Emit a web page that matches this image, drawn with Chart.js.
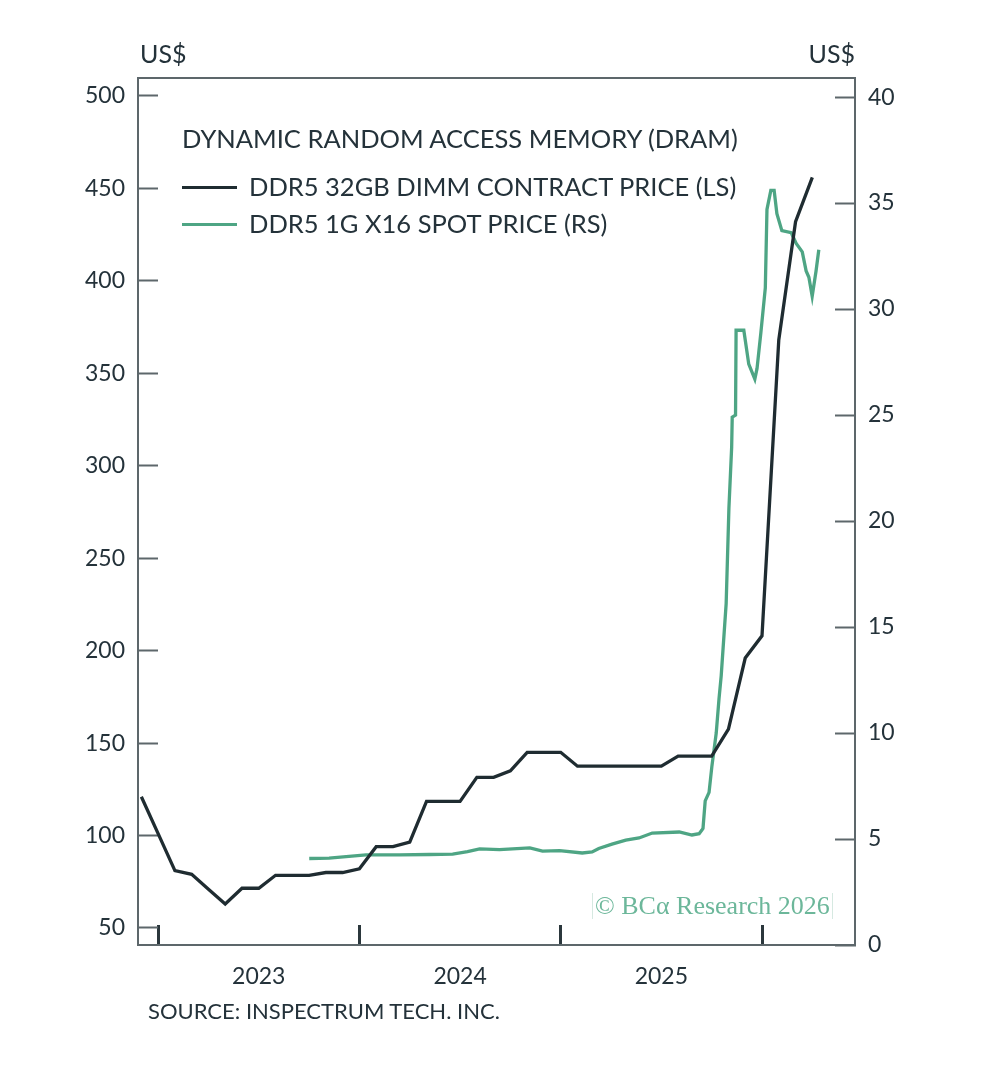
<!DOCTYPE html>
<html>
<head>
<meta charset="utf-8">
<script src="https://cdn.jsdelivr.net/npm/chart.js@4.4.1/dist/chart.umd.min.js"></script>
<style>
  body { margin: 0; background: #fff; }
  #wrap { position: relative; width: 986px; height: 1073px; font-family: Lato, "Open Sans", sans-serif; color: #24323a; }
  #wrap canvas { position: absolute; left: 0; top: 0; }
  .txt { position: absolute; line-height: 1; white-space: nowrap; }
  .unit { font-size: 25px; top: 41px; }
  .title { left: 182px; top: 126px; font-size: 25.5px; }
  .leg { left: 182px; font-size: 25.5px; }
  .leg i { display: inline-block; width: 55px; height: 3px; vertical-align: middle; margin-right: 12px; position: relative; top: -2px; }
  .source { left: 148px; top: 1000px; font-size: 22px; }
  .mark { left: 592px; top: 893px; height: 26px; padding: 0 2px; font-family: "Liberation Serif", "DejaVu Serif", serif; font-size: 26px; line-height: 26px; color: #6cb79a; border-left: 1px solid #d6e9e1; border-right: 1px solid #d6e9e1; }
</style>
</head>
<body>
<div id="wrap">
  <canvas id="dramChart"></canvas>
  <div class="txt unit" style="left:140px">US$</div>
  <div class="txt unit" style="right:131px">US$</div>
  <div class="txt title">DYNAMIC RANDOM ACCESS MEMORY (DRAM)</div>
  <div class="txt leg" style="top:174px"><i style="background:#1f2c31"></i>DDR5 32GB DIMM CONTRACT PRICE (LS)</div>
  <div class="txt leg" style="top:211px"><i style="background:#4ea584"></i>DDR5 1G X16 SPOT PRICE (RS)</div>
  <div class="txt source">SOURCE: INSPECTRUM TECH. INC.</div>
  <div class="txt mark">© BCα Research 2026</div>
</div>
<script>
// DDR5 32GB DIMM contract price, monthly (US$, left scale)
var contractMonths = [
  '2022-12', '2023-01', '2023-02', '2023-03', '2023-04', '2023-05', '2023-06', '2023-07',
  '2023-08', '2023-09', '2023-10', '2023-11', '2023-12', '2024-01', '2024-02', '2024-03',
  '2024-04', '2024-05', '2024-06', '2024-07', '2024-08', '2024-09', '2024-10', '2024-11',
  '2024-12', '2025-01', '2025-02', '2025-03', '2025-04', '2025-05', '2025-06', '2025-07',
  '2025-08', '2025-09', '2025-10', '2025-11', '2025-12', '2026-01', '2026-02', '2026-03',
  '2026-04'
];
var contractPrice = [
  121, 101, 81, 79, 71, 63, 71.5, 71.5,
  78.5, 78.5, 78.5, 80, 80, 82, 94, 94,
  96.5, 118.5, 118.5, 118.5, 131.5, 131.5, 135, 145,
  145, 145, 137.5, 137.5, 137.5, 137.5, 137.5, 137.5,
  143, 143, 143, 157.5, 196, 208, 368, 432,
  456
];

// DDR5 1G x16 spot price (US$, right scale)
var spotDates = [
  '2023-10-02', '2023-11-07', '2024-01-13', '2024-03-13', '2024-05-07', '2024-06-18',
  '2024-07-15', '2024-08-06', '2024-09-11', '2024-11-05', '2024-11-28', '2024-12-29',
  '2025-02-09', '2025-02-27', '2025-03-11', '2025-04-04', '2025-04-29', '2025-05-23',
  '2025-06-16', '2025-08-04', '2025-08-27', '2025-09-09', '2025-09-14', '2025-09-16',
  '2025-09-20', '2025-09-27', '2025-10-02', '2025-10-10', '2025-10-15', '2025-10-19',
  '2025-10-28', '2025-11-02', '2025-11-07', '2025-11-08', '2025-11-14', '2025-11-15',
  '2025-11-29', '2025-12-08', '2025-12-19', '2025-12-23', '2025-12-30', '2026-01-07',
  '2026-01-10', '2026-01-17', '2026-01-23', '2026-01-28', '2026-02-06', '2026-02-23',
  '2026-03-04', '2026-03-15', '2026-03-22', '2026-03-27', '2026-04-02', '2026-04-09',
  '2026-04-14'
];
var spotPrice = [
  4.08, 4.1, 4.25, 4.25, 4.27, 4.29,
  4.4, 4.53, 4.5, 4.58, 4.43, 4.45,
  4.34, 4.39, 4.55, 4.76, 4.95, 5.05,
  5.28, 5.33, 5.19, 5.25, 5.42, 5.5,
  6.8, 7.2, 8.4, 10.0, 11.6, 12.7,
  16.1, 20.6, 23.5, 24.9, 25.0, 29.0,
  29.0, 27.4, 26.7, 27.2, 28.9, 31.0,
  34.7, 35.6, 35.6, 34.5, 33.7, 33.6,
  33.1, 32.7, 31.8, 31.5, 30.6, 31.8,
  32.8
];

var yearTicks = [2023, 2024, 2025, 2026];
var yearLabels = ['2023', '2024', '2025'];
var leftTicks = [50, 100, 150, 200, 250, 300, 350, 400, 450, 500];
var rightTicks = [0, 5, 10, 15, 20, 25, 30, 35, 40];

var AXIS_COLOR = '#5d676b';
var TEXT_COLOR = '#24323a';

// 'YYYY-MM' or 'YYYY-MM-DD' -> decimal year
function toYear(s) {
  var p = s.split('-');
  var y = +p[0], m = +p[1];
  if (p.length === 2) return y + (m - 1) / 12;
  var start = Date.UTC(y, 0, 1);
  var day = (Date.UTC(y, m - 1, +p[2]) - start) / 86400000;
  return y + day / 365;
}

function toPoints(dates, values) {
  return dates.map(function (d, i) { return { x: toYear(d), y: values[i] }; });
}

// tick marks at year starts, labels centred inside each year
var xTickValues = [];
yearTicks.forEach(function (y) { xTickValues.push(y); });
yearLabels.forEach(function (l) { xTickValues.push(+l + 0.5); });
xTickValues.sort();

var frame = {
  id: 'frame',
  afterDraw: function (chart) {
    var a = chart.chartArea, ctx = chart.ctx;
    ctx.save();
    ctx.strokeStyle = AXIS_COLOR;
    ctx.lineWidth = 2;
    ctx.beginPath();
    ctx.moveTo(a.left - 1, a.top);
    ctx.lineTo(a.right + 1, a.top);
    ctx.stroke();
    ctx.restore();
  }
};

var tickFont = { family: 'Lato', size: 23 };

new Chart(document.getElementById('dramChart'), {
  type: 'line',
  data: {
    datasets: [
      {
        label: 'DDR5 32GB DIMM CONTRACT PRICE (LS)',
        data: toPoints(contractMonths, contractPrice),
        yAxisID: 'yL',
        borderColor: '#1f2c31',
        borderWidth: 3.3,
        pointRadius: 0,
        tension: 0
      },
      {
        label: 'DDR5 1G X16 SPOT PRICE (RS)',
        data: toPoints(spotDates, spotPrice),
        yAxisID: 'yR',
        borderColor: '#4ea584',
        borderWidth: 3.3,
        pointRadius: 0,
        tension: 0
      }
    ]
  },
  options: {
    responsive: true,
    maintainAspectRatio: false,
    animation: false,
    layout: { padding: { top: 78, left: 0, right: 0, bottom: 0 } },
    plugins: { legend: { display: false }, tooltip: { enabled: false } },
    scales: {
      x: {
        type: 'linear',
        min: 2022.9,
        max: 2026.462,
        afterBuildTicks: function (s) { s.ticks = xTickValues.map(function (v) { return { value: v }; }); },
        afterFit: function (s) { s.height = 128; },
        ticks: {
          autoSkip: false, maxRotation: 0, padding: 38, color: TEXT_COLOR, font: tickFont,
          callback: function (v) { return (v % 1 === 0.5) ? String(Math.floor(v)) : ''; }
        },
        grid: {
          drawOnChartArea: false, tickLength: -20, tickWidth: 3,
          color: function (c) { return (c.tick && c.tick.value % 1 === 0) ? '#2b373c' : 'rgba(0,0,0,0)'; }
        },
        border: { color: AXIS_COLOR, width: 2 }
      },
      yL: {
        position: 'left',
        min: 40.8,
        max: 509.7,
        afterBuildTicks: function (s) { s.ticks = leftTicks.map(function (v) { return { value: v }; }); },
        afterFit: function (s) { s.width = 138; },
        ticks: { padding: 33, color: TEXT_COLOR, font: tickFont },
        grid: { drawOnChartArea: false, tickLength: -20, tickWidth: 2, color: AXIS_COLOR },
        border: { color: AXIS_COLOR, width: 2 }
      },
      yR: {
        position: 'right',
        min: 0,
        max: 40.9,
        afterBuildTicks: function (s) { s.ticks = rightTicks.map(function (v) { return { value: v }; }); },
        afterFit: function (s) { s.width = 131; },
        ticks: { padding: 33, color: TEXT_COLOR, font: tickFont },
        grid: { drawOnChartArea: false, tickLength: -20, tickWidth: 2, color: AXIS_COLOR },
        border: { color: AXIS_COLOR, width: 2 }
      }
    }
  },
  plugins: [frame]
});
</script>
</body>
</html>
